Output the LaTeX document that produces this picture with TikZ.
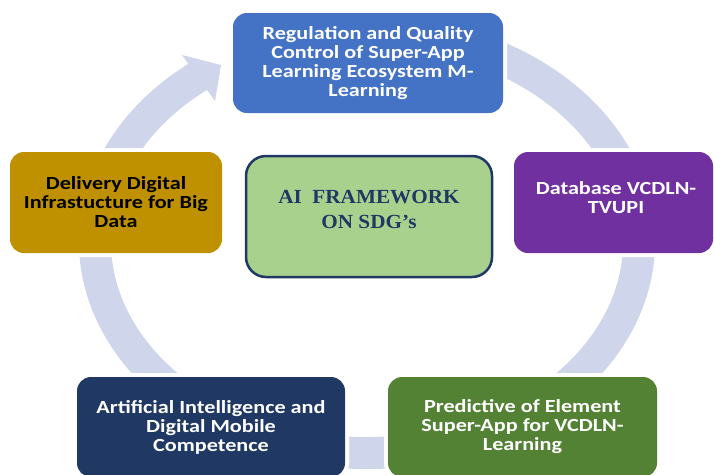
\documentclass[tikz,border=0pt]{standalone}
\usepackage{fontspec}
\newfontfamily\boxfont[FakeStretch=1.2]{Carlito}
\newfontfamily\titlefont[FakeStretch=1.06]{Liberation Serif}
\definecolor{ringc}{HTML}{CFD5EA}
\definecolor{topblue}{HTML}{4472C4}
\definecolor{goldc}{HTML}{BF9000}
\definecolor{purp}{HTML}{7030A0}
\definecolor{navyc}{HTML}{203864}
\definecolor{leaf}{HTML}{548235}
\definecolor{mint}{HTML}{A9D18E}
\definecolor{ink}{HTML}{1F3864}
\begin{document}
\begin{tikzpicture}[x=1pt,y=-1pt,
  outerbox/.style={rectangle, rounded corners=14pt, inner sep=0pt, align=center,
    preaction={draw=white, line width=8pt},
    font={\boxfont\bfseries\fontsize{18.5}{19}\selectfont}},
  boxtext/.style={inner sep=0pt, align=center,
    font={\boxfont\bfseries\fontsize{18.5}{19}\selectfont}},
  ringband/.style={draw=ringc, line width=32pt},
  hubbox/.style={rectangle, rounded corners=20pt, draw=navyc, line width=2.5pt, fill=mint, inner sep=0pt},
  hubtext/.style={inner sep=0pt, align=center, text=ink,
    font={\titlefont\bfseries\fontsize{20}{25}\selectfont}}
]
\useasboundingbox (0,0) rectangle (714,474);
\clip (0,0) rectangle (714,474);
% ring
\draw[ringband] (367,242) ++(250:272 and 211)
  arc[start angle=250, end angle=592.2, x radius=272, y radius=211];
\fill[ringc] (182,55) -- (221,65) -- (215,101) -- cycle;
% outer boxes
\node[outerbox, fill=topblue, text=white, minimum width=270pt, minimum height=100pt]
  (reg) at (368,63) {Regulation and Quality\\Control of Super-App\\Learning Ecosystem M-\\Learning};
\node[outerbox, fill=goldc, text=black, minimum width=212pt, minimum height=101pt]
  (deliv) at (116,202.5) {Delivery Digital\\Infrastucture for Big\\Data};
\node[outerbox, fill=purp, minimum width=199pt, minimum height=101pt]
  (dbbox) at (613.5,202.5) {};
\node[boxtext, text=white] (db) at (616,198) {Database VCDLN-\\TVUPI};
\node[outerbox, fill=navyc, text=white, minimum width=268pt, minimum height=100pt]
  (ai) at (211,427) {Artificial Intelligence and\\Digital Mobile\\Competence};
\node[outerbox, fill=leaf, text=white, minimum width=269pt, minimum height=100pt]
  (pred) at (522.5,427) {Predictive of Element\\Super-App for VCDLN-\\Learning};
% hub
\node[hubbox, minimum width=246pt, minimum height=121pt] (hub) at (369,216.5) {};
\node[hubtext] (hubt) at (369,209) {AI~~FRAMEWORK\\ON SDG’s};
\end{tikzpicture}
\end{document}
